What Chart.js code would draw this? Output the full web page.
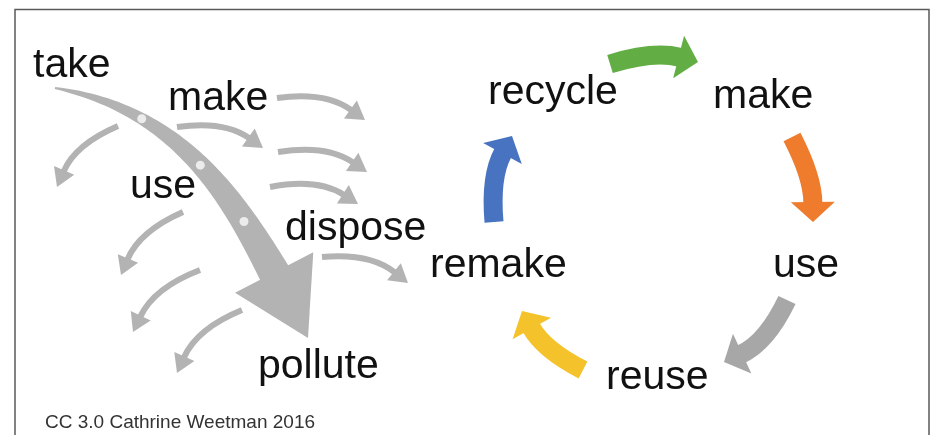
<!DOCTYPE html>
<html>
<head>
<meta charset="utf-8">
<script src="https://cdn.jsdelivr.net/npm/chart.js@4.4.3/dist/chart.umd.min.js"></script>
<style>
  html, body { margin: 0; padding: 0; background: #fff; }
  #wrap { width: 932px; height: 435px; }
</style>
</head>
<body>
<div id="wrap"><canvas id="diagram" width="932" height="435"></canvas></div>
<script>
// words of the two loops (x = left edge, y = baseline, in diagram units)
const words = ['take', 'make', 'use', 'dispose', 'pollute', 'recycle', 'make', 'use', 'reuse', 'remake'];
const wordX = [33, 168, 130, 285, 258, 488, 713, 773, 606, 430];
const wordY = [77, 110, 198, 240, 378, 104, 108, 277, 389, 277];

const credit = 'CC 3.0 Cathrine Weetman 2016';
const creditPos = [45, 428];

// thin grey side arrows of the linear economy
const thinFromX = [277, 177, 278, 270, 118, 322, 183, 200, 242];
const thinFromY = [98, 127, 152, 187, 126, 257, 212, 270, 310];
const thinToX = [365, 263, 367, 358, 57, 408, 121, 133, 177];
const thinToY = [120, 148, 172, 204, 187, 283, 275, 332, 373];
const thinBend = [0.2, 0.2, 0.2, 0.2, -0.2, 0.2, -0.2, -0.2, -0.2];

// big take -> pollute arrow (cubic path + head tip)
const bigPathX = [55, 180, 233, 276];
const bigPathY = [88, 110, 198, 276];
const bigTip = [308, 338];
const bigDots = [0.27, 0.52, 0.77];

// circular economy arrows: recycle->make, make->use, use->reuse, reuse->remake, remake->recycle
const cycleFromX = [610, 792, 787, 583, 494];
const cycleFromY = [64, 137, 300, 370, 222];
const cycleToX = [698, 813, 724, 522, 512];
const cycleToY = [62, 222, 362, 311, 136];
const cycleBend = [0.14, 0.12, 0.18, 0.15, 0.15];
const cycleColors = ['#62ae45', '#ef7b2d', '#a7a7a7', '#f4c22b', '#4873c1'];

const greyArrow = '#b3b3b3';

function curvedArrow(ctx, x0, y0, x1, y1, bend, color, lw, hl, hw) {
  const dx = x1 - x0, dy = y1 - y0;
  const L = Math.hypot(dx, dy);
  const nx = dy / L, ny = -dx / L;
  const cx = (x0 + x1) / 2 + nx * bend * L;
  const cy = (y0 + y1) / 2 + ny * bend * L;
  let tx = x1 - cx, ty = y1 - cy;
  const tl = Math.hypot(tx, ty);
  tx /= tl; ty /= tl;
  const bx = x1 - tx * hl, by = y1 - ty * hl;

  ctx.strokeStyle = color;
  ctx.fillStyle = color;
  ctx.lineWidth = lw;
  ctx.lineCap = 'butt';
  ctx.beginPath();
  ctx.moveTo(x0, y0);
  ctx.quadraticCurveTo(cx, cy, bx + tx, by + ty);
  ctx.stroke();

  ctx.beginPath();
  ctx.moveTo(x1, y1);
  ctx.lineTo(bx - ty * hw / 2, by + tx * hw / 2);
  ctx.lineTo(bx + ty * hw / 2, by - tx * hw / 2);
  ctx.closePath();
  ctx.fill();
}

function cubicAt(p, t) {
  const u = 1 - t;
  return u * u * u * p[0] + 3 * u * u * t * p[1] + 3 * u * t * t * p[2] + t * t * t * p[3];
}

function cubicSlope(p, t) {
  const u = 1 - t;
  return 3 * u * u * (p[1] - p[0]) + 6 * u * t * (p[2] - p[1]) + 3 * t * t * (p[3] - p[2]);
}

const diagramPlugin = {
  id: 'diagram',
  beforeDraw(chart) {
    const ctx = chart.ctx;
    const sx = chart.scales.x, sy = chart.scales.y;
    ctx.save();
    ctx.fillStyle = '#fff';
    ctx.fillRect(0, 0, chart.width, chart.height);
    ctx.strokeStyle = '#5a5a5a';
    ctx.lineWidth = 1.5;
    ctx.beginPath();
    ctx.moveTo(sx.getPixelForValue(15), sy.getPixelForValue(445));
    ctx.lineTo(sx.getPixelForValue(15), sy.getPixelForValue(9.5));
    ctx.lineTo(sx.getPixelForValue(929), sy.getPixelForValue(9.5));
    ctx.lineTo(sx.getPixelForValue(929), sy.getPixelForValue(445));
    ctx.stroke();
    ctx.restore();
  },
  afterDatasetsDraw(chart) {
    const ctx = chart.ctx;
    const sx = chart.scales.x, sy = chart.scales.y;
    const X = v => sx.getPixelForValue(v);
    const Y = v => sy.getPixelForValue(v);
    ctx.save();

    // big tapered arrow
    const px = bigPathX.map(X), py = bigPathY.map(Y);
    const left = [], right = [];
    const n = 60;
    for (let i = 0; i <= n; i++) {
      const t = i / n;
      const x = cubicAt(px, t), y = cubicAt(py, t);
      let tx = cubicSlope(px, t), ty = cubicSlope(py, t);
      const l = Math.hypot(tx, ty);
      tx /= l; ty /= l;
      const w = (2 + 30 * Math.pow(t, 0.85)) / 2;
      left.push([x + ty * w, y - tx * w]);
      right.push([x - ty * w, y + tx * w]);
    }
    ctx.fillStyle = greyArrow;
    ctx.beginPath();
    left.forEach((p, i) => i ? ctx.lineTo(p[0], p[1]) : ctx.moveTo(p[0], p[1]));
    for (let i = right.length - 1; i >= 0; i--) ctx.lineTo(right[i][0], right[i][1]);
    ctx.closePath();
    ctx.fill();

    const hx = X(bigTip[0]), hy = Y(bigTip[1]);
    const bx = px[3], by = py[3];
    let dx = hx - bx, dy = hy - by;
    const dl = Math.hypot(dx, dy);
    dx /= dl; dy /= dl;
    const hw = 44;
    ctx.beginPath();
    ctx.moveTo(hx, hy);
    ctx.lineTo(bx - dy * hw - dx * 4, by + dx * hw - dy * 4);
    ctx.lineTo(bx + dy * hw - dx * 4, by - dx * hw - dy * 4);
    ctx.closePath();
    ctx.fill();

    ctx.fillStyle = '#ececec';
    bigDots.forEach(t => {
      ctx.beginPath();
      ctx.arc(cubicAt(px, t), cubicAt(py, t), 4.5, 0, Math.PI * 2);
      ctx.fill();
    });

    // thin side arrows
    for (let i = 0; i < thinFromX.length; i++) {
      curvedArrow(ctx, X(thinFromX[i]), Y(thinFromY[i]), X(thinToX[i]), Y(thinToY[i]),
        thinBend[i], greyArrow, 6, 18, 22);
    }

    // circular arrows
    for (let i = 0; i < cycleFromX.length; i++) {
      curvedArrow(ctx, X(cycleFromX[i]), Y(cycleFromY[i]), X(cycleToX[i]), Y(cycleToY[i]),
        cycleBend[i], cycleColors[i], 19, 20, 44);
    }

    // words
    const pts = chart.getDatasetMeta(0).data;
    ctx.fillStyle = '#111';
    ctx.textAlign = 'left';
    ctx.textBaseline = 'alphabetic';
    ctx.font = '41px "Liberation Sans", Arial, sans-serif';
    words.forEach((w, i) => ctx.fillText(w, pts[i].x, pts[i].y));

    ctx.fillStyle = '#333';
    ctx.font = '19px "Liberation Sans", Arial, sans-serif';
    ctx.fillText(credit, X(creditPos[0]), Y(creditPos[1]));
    ctx.restore();
  }
};

new Chart(document.getElementById('diagram'), {
  type: 'scatter',
  data: {
    datasets: [{
      label: 'words',
      data: words.map((w, i) => ({ x: wordX[i], y: wordY[i] })),
      pointRadius: 0,
      pointHoverRadius: 0
    }]
  },
  options: {
    responsive: false,
    animation: false,
    layout: { padding: 0 },
    scales: {
      x: { type: 'linear', min: 0, max: 932, display: false },
      y: { type: 'linear', min: 0, max: 435, reverse: true, display: false }
    },
    plugins: {
      legend: { display: false },
      tooltip: { enabled: false }
    }
  },
  plugins: [diagramPlugin]
});
</script>
</body>
</html>
